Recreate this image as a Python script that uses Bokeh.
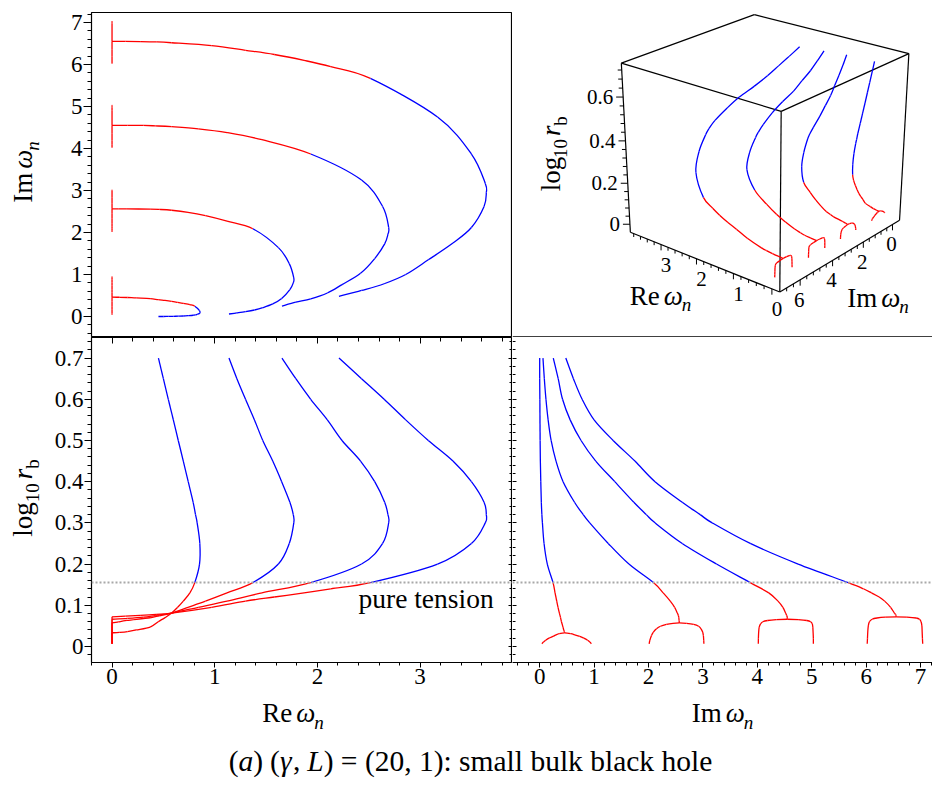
import math
import numpy as np
from bokeh.plotting import figure
from bokeh.models import FixedTicker, LinearAxis, Span, Label, ColumnDataSource
from bokeh.layouts import column, row
from bokeh.embed import file_html
from bokeh.resources import INLINE
from bokeh.core.properties import value

FONT = "Liberation Serif"
MID_EM = 0.3375             # centre of the font's em box above its baseline
INK = "#000000"
RED = "#ff0000"
BLUE = "#0000ff"
DOTS = "#a8a8a8"
TENSION_LOG_RB = 0.155      # log10 r_b of the pure-tension brane

# ---------------------------------------------------------------------------
# Quasinormal-mode tracks n = 0..3.
# Main branch: log10 r_b, Re w_n, Im w_n, followed from large r_b down to the
# point where Re w_n reaches 0; there the mode splits into two purely
# imaginary modes (lower / upper Im w_n) as r_b keeps decreasing.
# ---------------------------------------------------------------------------
N0_LOG_RB = [0.70, 0.65, 0.60, 0.55, 0.50, 0.45, 0.40, 0.35, 0.32, 0.30, 0.25, 0.20, 0.155,
             0.13, 0.11, 0.095, 0.081, 0.07, 0.06, 0.047, 0.04, 0.036, 0.034, 0.033]
N0_RE = [0.452, 0.50, 0.548, 0.597, 0.645, 0.694, 0.742, 0.79, 0.813, 0.829, 0.855, 0.852, 0.806,
         0.758, 0.694, 0.639, 0.58, 0.516, 0.45, 0.371, 0.235, 0.15, 0.07, 0.0]
N0_IM = [0.0, 0.0, 0.003, 0.005, 0.008, 0.012, 0.02, 0.03, 0.04, 0.05, 0.08, 0.14, 0.245,
         0.282, 0.313, 0.337, 0.362, 0.383, 0.40, 0.428, 0.442, 0.453, 0.458, 0.46]
N0_SPLIT_LOG_RB = [0.033, 0.031, 0.028, 0.0243, 0.020, 0.015, 0.011, 0.0065]
N0_SPLIT_IM_LO = [0.46, 0.36, 0.30, 0.245, 0.17, 0.11, 0.07, 0.04]
N0_SPLIT_IM_HI = [0.46, 0.57, 0.65, 0.736, 0.81, 0.88, 0.92, 0.95]

N1_LOG_RB = [0.70, 0.65, 0.60, 0.55, 0.50, 0.45, 0.40, 0.35, 0.32, 0.30, 0.25, 0.20, 0.155,
             0.13, 0.11, 0.095, 0.081, 0.0745, 0.0696, 0.0631, 0.0595, 0.057]
N1_RE = [1.139, 1.216, 1.30, 1.387, 1.468, 1.565, 1.652, 1.732, 1.765, 1.77, 1.726, 1.62, 1.371,
         1.12, 0.91, 0.74, 0.58, 0.46, 0.371, 0.145, 0.06, 0.0]
N1_IM = [0.06, 0.085, 0.115, 0.155, 0.21, 0.30, 0.43, 0.64, 0.80, 0.92, 1.26, 1.64, 2.09,
         2.27, 2.40, 2.48, 2.53, 2.55, 2.557, 2.562, 2.565, 2.565]
N1_SPLIT_LOG_RB = [0.057, 0.056, 0.0534, 0.049, 0.0429, 0.035, 0.0267, 0.015, 0.0065]
N1_SPLIT_IM_LO = [2.565, 2.45, 2.33, 2.22, 2.147, 2.09, 2.055, 2.025, 2.012]
N1_SPLIT_IM_HI = [2.565, 2.70, 2.83, 2.92, 2.965, 2.995, 3.008, 3.015, 3.018]

N2_LOG_RB = [0.70, 0.65, 0.60, 0.55, 0.50, 0.45, 0.40, 0.35, 0.32, 0.30, 0.25, 0.20, 0.155,
             0.13, 0.11, 0.095, 0.081, 0.075, 0.071, 0.068, 0.066]
N2_RE = [1.655, 1.79, 1.935, 2.097, 2.24, 2.42, 2.558, 2.655, 2.687, 2.694, 2.635, 2.43, 1.935,
         1.46, 1.12, 0.84, 0.58, 0.42, 0.306, 0.15, 0.0]
N2_IM = [0.25, 0.34, 0.42, 0.56, 0.76, 1.03, 1.38, 1.73, 1.96, 2.12, 2.62, 3.25, 3.87,
         4.21, 4.38, 4.47, 4.52, 4.54, 4.55, 4.55, 4.55]
N2_SPLIT_LOG_RB = [0.066, 0.065, 0.063, 0.06, 0.055, 0.047, 0.035, 0.02, 0.0065]
N2_SPLIT_IM_LO = [4.55, 4.35, 4.19, 4.10, 4.06, 4.035, 4.025, 4.02, 4.018]
N2_SPLIT_IM_HI = [4.55, 4.75, 4.91, 4.98, 5.01, 5.02, 5.025, 5.03, 5.03]

N3_LOG_RB = [0.70, 0.65, 0.60, 0.55, 0.50, 0.45, 0.40, 0.35, 0.32, 0.30, 0.25, 0.20, 0.155,
             0.14, 0.13, 0.12, 0.11, 0.095, 0.081, 0.078, 0.0755, 0.0735, 0.072]
N3_RE = [2.21, 2.43, 2.65, 2.86, 3.08, 3.32, 3.50, 3.623, 3.645, 3.635, 3.50, 3.17, 2.516,
         2.13, 1.87, 1.58, 1.30, 0.97, 0.58, 0.43, 0.274, 0.13, 0.0]
N3_IM = [0.48, 0.62, 0.78, 1.0, 1.35, 1.75, 2.12, 2.62, 2.95, 3.17, 3.87, 4.75, 5.67,
         5.95, 6.10, 6.24, 6.34, 6.45, 6.52, 6.54, 6.548, 6.55, 6.55]
N3_SPLIT_LOG_RB = [0.072, 0.0712, 0.069, 0.066, 0.06, 0.05, 0.035, 0.02, 0.0065]
N3_SPLIT_IM_LO = [6.55, 6.35, 6.2, 6.11, 6.06, 6.04, 6.03, 6.025, 6.02]
N3_SPLIT_IM_HI = [6.55, 6.75, 6.92, 6.98, 7.01, 7.025, 7.03, 7.035, 7.04]

SPLIT_RE = 0.0   # the split branches are purely imaginary

MODES = [
    (N0_LOG_RB, N0_RE, N0_IM, N0_SPLIT_LOG_RB, N0_SPLIT_IM_LO, N0_SPLIT_IM_HI),
    (N1_LOG_RB, N1_RE, N1_IM, N1_SPLIT_LOG_RB, N1_SPLIT_IM_LO, N1_SPLIT_IM_HI),
    (N2_LOG_RB, N2_RE, N2_IM, N2_SPLIT_LOG_RB, N2_SPLIT_IM_LO, N2_SPLIT_IM_HI),
    (N3_LOG_RB, N3_RE, N3_IM, N3_SPLIT_LOG_RB, N3_SPLIT_IM_LO, N3_SPLIT_IM_HI),
]

# ---------------------------------------------------------------------------
# Axis ranges and ticks
# ---------------------------------------------------------------------------
RE_RANGE = (-0.2, 3.9)
IM_TOP_RANGE = (-0.5, 7.24)
IM_RANGE = (-0.5, 7.22)
LOG_RB_RANGE = (-0.039, 0.75)

RE_TICKS = [0, 1, 2, 3]
RE_MINOR = [round(-0.2 + 0.2 * k, 1) for k in range(21)]
IM_TICKS = [0, 1, 2, 3, 4, 5, 6, 7]
IM_MINOR = [round(-0.4 + 0.2 * k, 1) for k in range(39)]
LOG_RB_TICKS = [0, 0.1, 0.2, 0.3, 0.4, 0.5, 0.6, 0.7]
LOG_RB_TICK_TEXT = {0: "0", 0.1: "0.1", 0.2: "0.2", 0.3: "0.3", 0.4: "0.4",
                    0.5: "0.5", 0.6: "0.6", 0.7: "0.7"}
LOG_RB_MINOR = [round(-0.02 + 0.02 * k, 2) for k in range(39)]

# 3-D view box and its tick marks
BOX_RE = (-0.2, 3.9)
BOX_IM = (-0.5, 7.2)
BOX_LOG_RB = (-0.04, 0.75)
BOX_RE_TICKS = [0, 1, 2, 3]
BOX_RE_MINOR = [round(0.2 * k, 1) for k in range(20)]
BOX_IM_TICKS = [0, 2, 4, 6]
BOX_IM_MINOR = [round(0.4 * k, 1) for k in range(18)]
BOX_LOG_RB_TICKS = [0, 0.2, 0.4, 0.6]
BOX_LOG_RB_TICK_TEXT = ["0", "0.2", "0.4", "0.6"]
BOX_LOG_RB_MINOR = [round(0.04 * k, 2) for k in range(19)]

# perspective camera for the 3-D panel (panel pixels, y down)
CAM_FOCAL = 1332.7
CAM_TILT = 27.57                      # downward pitch, degrees
CAM_YAW = 39.6                        # heading of the Im edge, degrees
CAM_CENTER = (249.0, 224.3)           # principal point
BOX_CORNER = (0.0159, 1.0, -0.5864)   # (lateral, forward, height) of Re_min/Im_max/floor corner
BOX_EDGES = (0.1816, 0.1836, 0.1753)  # edge lengths along Re, Im, log10 r_b

# layout (px)
STRIP_W = 50                 # column holding the rotated y titles
LEFT_W, RIGHT_W = 462, 420
TOP_H, BOTTOM_H, CAPTION_H = 337, 360, 88
PAD_L = 41
PAD_T = 12
FRAME_H = 325
PAGE_W = STRIP_W + LEFT_W + RIGHT_W

TICK_FS = 23
BOX_TICK_FS = 21
AXIS_FS = 27
SUB_FS = 19
NOTE_FS = 27.5
CAP_FS = 29.5

ROMAN_EM = {' ': 0.25, '(': 0.333, ')': 0.333, ',': 0.25, ':': 0.278, '=': 0.564,
            'a': 0.444, 'b': 0.5, 'c': 0.444, 'e': 0.444, 'g': 0.5, 'h': 0.5,
            'k': 0.5, 'l': 0.278, 'm': 0.778, 'n': 0.5, 'o': 0.5, 'r': 0.333,
            's': 0.389, 'u': 0.5, 'I': 0.333, 'R': 0.667, 'L': 0.611}
ITALIC_EM = {'a': 0.5, 'n': 0.5, 'r': 0.389, 'ω': 0.67, 'γ': 0.44, 'L': 0.556}


def text_px(s, size, italic):
    table = ITALIC_EM if italic else ROMAN_EM
    return sum(table.get(c, 0.5) for c in s) * size


def math_text(p, px, py, parts, vertical=False):
    """Formula pieces (own style/size/baseline shift) on a common baseline through (px, py)."""
    total = sum(text_px(t, sz, it) + gap for (t, it, sz, rise, gap) in parts)
    u = -total / 2.0
    for (t, it, sz, rise, gap) in parts:
        u += gap
        up = rise + MID_EM * sz          # anchor on the middle of the em box
        if vertical:
            x, y = px - up, py - u
        else:
            x, y = px + u, py - up
        p.add_layout(Label(x=x, y=y, text=t, text_font=FONT, text_font_size=f"{sz}px",
                           text_font_style="italic" if it else "normal", text_color=INK,
                           text_baseline="middle", text_align="left",
                           angle=math.pi / 2 if vertical else 0.0))
        u += text_px(t, sz, it)


IM_LABEL = [("Im", False, AXIS_FS, 0, 0), ("ω", True, AXIS_FS, 0, 4), ("n", True, SUB_FS, -6, 0)]
RE_LABEL = [("Re", False, AXIS_FS, 0, 0), ("ω", True, AXIS_FS, 0, 4), ("n", True, SUB_FS, -6, 0)]
LOG_LABEL = [("log", False, AXIS_FS, 0, 0), ("10", False, SUB_FS, -6, 0),
             ("r", True, AXIS_FS, 0, 4), ("b", False, SUB_FS, -6, 0)]
CAPTION = [("(", False, CAP_FS, 0, 0), ("a", True, CAP_FS, 0, 0), (")", False, CAP_FS, 0, 0),
           ("(", False, CAP_FS, 0, 7), ("γ", True, CAP_FS, 0, 0), (",", False, CAP_FS, 0, 0),
           ("L", True, CAP_FS, 0, 7),
           (") = (20, 1): small bulk black hole", False, CAP_FS, 0, 0)]


def panel(width, height, xr, yr, left=0, right=0, top=0, bottom=0, outline=True):
    p = figure(width=width, height=height, x_range=xr, y_range=yr,
               x_axis_type=None, y_axis_type=None, toolbar_location=None,
               output_backend="svg", min_border_left=left, min_border_right=right,
               min_border_top=top, min_border_bottom=bottom)
    p.outline_line_color = INK if outline else None
    p.outline_line_width = 1.2
    p.background_fill_color = "white"
    p.border_fill_color = "white"
    return p


def pixel_panel(width, height):
    p = figure(width=width, height=height, x_range=(0, width), y_range=(height, 0),
               x_axis_type=None, y_axis_type=None, toolbar_location=None,
               output_backend="svg", min_border_left=0, min_border_right=0,
               min_border_top=0, min_border_bottom=0)
    p.outline_line_color = None
    p.background_fill_color = "white"
    p.border_fill_color = "white"
    return p


def add_axis(p, side, ticks, minor, labels=None, tick_in=0, tick_out=0,
             minor_in=0, minor_out=0, fixed=None, standoff=2, line=False):
    ax = LinearAxis(ticker=FixedTicker(ticks=ticks, minor_ticks=minor))
    ax.axis_line_color = INK if line else None
    ax.axis_line_width = 1.2
    ax.major_tick_in, ax.major_tick_out = tick_in, tick_out
    ax.minor_tick_in, ax.minor_tick_out = minor_in, minor_out
    ax.major_tick_line_color = INK
    ax.minor_tick_line_color = INK
    if labels is None:
        ax.major_label_text_font_size = "0px"
        ax.major_label_text_color = None
        ax.major_label_standoff = 0
    else:
        ax.major_label_overrides = labels
        ax.major_label_text_font = FONT
        ax.major_label_text_font_size = f"{TICK_FS}px"
        ax.major_label_text_color = INK
        ax.major_label_standoff = standoff
    if fixed is not None:
        ax.fixed_location = fixed
    p.add_layout(ax, side)
    return ax


def draw_track(p, xs, ys, colors, width=1.3):
    """Smooth curve through the points (cubic Bezier pieces, Catmull-Rom tangents)."""
    n = len(xs)
    seg = {k: [] for k in ("x0", "y0", "x1", "y1", "cx0", "cy0", "cx1", "cy1", "c")}
    for i in range(n - 1):
        a, d = max(i - 1, 0), min(i + 2, n - 1)
        seg["x0"].append(xs[i])
        seg["y0"].append(ys[i])
        seg["x1"].append(xs[i + 1])
        seg["y1"].append(ys[i + 1])
        seg["cx0"].append(xs[i] + (xs[i + 1] - xs[a]) / 6.0)
        seg["cy0"].append(ys[i] + (ys[i + 1] - ys[a]) / 6.0)
        seg["cx1"].append(xs[i + 1] - (xs[d] - xs[i]) / 6.0)
        seg["cy1"].append(ys[i + 1] - (ys[d] - ys[i]) / 6.0)
        seg["c"].append(colors[i])
    p.bezier(x0="x0", y0="y0", x1="x1", y1="y1", cx0="cx0", cy0="cy0", cx1="cx1", cy1="cy1",
             line_color="c", line_width=width, source=ColumnDataSource(seg))


def stage_colors(lr):
    return [BLUE if min(lr[i], lr[i + 1]) >= TENSION_LOG_RB - 1e-9 else RED
            for i in range(len(lr) - 1)]


def split_arch(s_lr, s_lo, s_hi):
    return s_lr[::-1] + s_lr[1:], s_lo[::-1] + s_hi[1:]


# ---------------- top left: Im w_n against Re w_n --------------------------
tl = panel(LEFT_W, TOP_H, RE_RANGE, IM_TOP_RANGE, left=PAD_L, top=PAD_T)
add_axis(tl, "left", IM_TICKS, IM_MINOR, labels={}, tick_out=8, minor_out=4, standoff=1)
for lr, re, im, s_lr, s_lo, s_hi in MODES:
    draw_track(tl, re, im, stage_colors(lr))
    a_lr, a_im = split_arch(s_lr, s_lo, s_hi)
    draw_track(tl, [SPLIT_RE] * len(a_im), a_im, [RED] * len(a_im))

# ---------------- bottom left: log10 r_b against Re w_n --------------------
bl = panel(LEFT_W, BOTTOM_H, RE_RANGE, LOG_RB_RANGE, left=PAD_L, bottom=BOTTOM_H - FRAME_H)
add_axis(bl, "left", LOG_RB_TICKS, LOG_RB_MINOR, labels=LOG_RB_TICK_TEXT,
         tick_out=7, minor_out=4, standoff=1)
add_axis(bl, "below", RE_TICKS, RE_MINOR, labels={}, tick_out=5, minor_out=3, standoff=1)
add_axis(bl, "above", RE_TICKS, RE_MINOR, tick_in=6, minor_in=4, fixed=LOG_RB_RANGE[1])
add_axis(bl, "right", LOG_RB_TICKS, LOG_RB_MINOR, tick_in=4, minor_in=3, fixed=RE_RANGE[1])
bl.add_layout(Span(location=TENSION_LOG_RB, dimension="width", line_color=DOTS,
                   line_width=2, line_dash="2 2"))
for lr, re, im, s_lr, s_lo, s_hi in MODES:
    draw_track(bl, re, lr, stage_colors(lr))
    draw_track(bl, [SPLIT_RE] * len(s_lr), s_lr, [RED] * len(s_lr))
# note sits on the baseline log10 r_b = 0.0945, anchored on its middle
note_mid = 0.0945 + MID_EM * NOTE_FS * (LOG_RB_RANGE[1] - LOG_RB_RANGE[0]) / FRAME_H
bl.add_layout(Label(x=2.40, y=note_mid, text="pure tension", text_font=FONT,
                    text_font_size=f"{NOTE_FS}px", text_color=INK,
                    text_baseline="middle", text_align="left"))

# ---------------- bottom right: log10 r_b against Im w_n -------------------
br = panel(RIGHT_W, BOTTOM_H, IM_RANGE, LOG_RB_RANGE, bottom=BOTTOM_H - FRAME_H, outline=False)
add_axis(br, "below", IM_TICKS, IM_MINOR, labels={}, tick_out=5, minor_out=3,
         standoff=1, line=True)
add_axis(br, "left", LOG_RB_TICKS, LOG_RB_MINOR, tick_in=4, minor_in=3, fixed=IM_RANGE[0])
br.add_layout(Span(location=TENSION_LOG_RB, dimension="width", line_color=DOTS,
                   line_width=2, line_dash="2 2"))
for lr, re, im, s_lr, s_lo, s_hi in MODES:
    draw_track(br, im, lr, stage_colors(lr))
    a_lr, a_im = split_arch(s_lr, s_lo, s_hi)
    draw_track(br, a_im, a_lr, [RED] * len(a_im))


# ---------------- top right: perspective view of the tracks ----------------
def project(re, im, lr):
    re = np.asarray(re, dtype=float)
    im = np.asarray(im, dtype=float)
    lr = np.asarray(lr, dtype=float)
    p = (re - BOX_RE[0]) / (BOX_RE[1] - BOX_RE[0])
    q = (BOX_IM[1] - im) / (BOX_IM[1] - BOX_IM[0])
    r = (lr - BOX_LOG_RB[0]) / (BOX_LOG_RB[1] - BOX_LOG_RB[0])
    yaw, tilt = math.radians(CAM_YAW), math.radians(CAM_TILT)
    ex = BOX_CORNER[0] - math.cos(yaw) * BOX_EDGES[0] * p + math.sin(yaw) * BOX_EDGES[1] * q
    ez = BOX_CORNER[1] + math.sin(yaw) * BOX_EDGES[0] * p + math.cos(yaw) * BOX_EDGES[1] * q
    eu = BOX_CORNER[2] + BOX_EDGES[2] * r
    depth = ez * math.cos(tilt) - eu * math.sin(tilt)
    sx = CAM_CENTER[0] + CAM_FOCAL * ex / depth
    sy = CAM_CENTER[1] + CAM_FOCAL * (-ez * math.sin(tilt) - eu * math.cos(tilt)) / depth
    return sx.tolist(), sy.tolist()


tr = pixel_panel(RIGHT_W, TOP_H)

r0, r1 = BOX_RE
i0, i1 = BOX_IM
l0, l1 = BOX_LOG_RB
edges = [((r0, i1, l1), (r1, i1, l1)), ((r1, i1, l1), (r1, i0, l1)),
         ((r1, i0, l1), (r0, i0, l1)), ((r0, i0, l1), (r0, i1, l1)),
         ((r0, i1, l0), (r0, i1, l1)), ((r1, i1, l0), (r1, i1, l1)),
         ((r0, i0, l0), (r0, i0, l1)),
         ((r0, i1, l0), (r1, i1, l0)), ((r0, i1, l0), (r0, i0, l0))]
ex_, ey_ = [], []
for a, b in edges:
    sx, sy = project([a[0], b[0]], [a[1], b[1]], [a[2], b[2]])
    ex_.append(sx)
    ey_.append(sy)
tr.multi_line(ex_, ey_, line_color=INK, line_width=1.2)

# tick marks on the three labelled edges
tx, ty = [], []
sx, sy = project(BOX_RE_MINOR, [i1] * len(BOX_RE_MINOR), [l0] * len(BOX_RE_MINOR))
for v, x, y in zip(BOX_RE_MINOR, sx, sy):
    tx.append([x, x])
    ty.append([y, y + (6 if v in BOX_RE_TICKS else 3.5)])
sx, sy = project([r0] * len(BOX_IM_MINOR), BOX_IM_MINOR, [l0] * len(BOX_IM_MINOR))
for v, x, y in zip(BOX_IM_MINOR, sx, sy):
    tx.append([x, x])
    ty.append([y, y + (6 if v in BOX_IM_TICKS else 3.5)])
sx, sy = project([r1] * len(BOX_LOG_RB_MINOR), [i1] * len(BOX_LOG_RB_MINOR), BOX_LOG_RB_MINOR)
for v, x, y in zip(BOX_LOG_RB_MINOR, sx, sy):
    tx.append([x, x - (7 if v in BOX_LOG_RB_TICKS else 4)])
    ty.append([y, y])
tr.multi_line(tx, ty, line_color=INK, line_width=1)

sx, sy = project(BOX_RE_TICKS, [i1] * 4, [l0] * 4)
tr.text([x + 5 for x in sx], [y + 21 for y in sy], text=[str(v) for v in BOX_RE_TICKS],
        text_font=value(FONT), text_font_size=value(f"{BOX_TICK_FS}px"), text_color=INK,
        text_align="center", text_baseline="middle")
sx, sy = project([r0] * 4, BOX_IM_TICKS, [l0] * 4)
tr.text([x - 1 for x in sx], [y + 20.5 for y in sy], text=[str(v) for v in BOX_IM_TICKS],
        text_font=value(FONT), text_font_size=value(f"{BOX_TICK_FS}px"), text_color=INK,
        text_align="center", text_baseline="middle")
sx, sy = project([r1] * 4, [i1] * 4, BOX_LOG_RB_TICKS)
tr.text([x - 10 for x in sx], sy, text=BOX_LOG_RB_TICK_TEXT,
        text_font=value(FONT), text_font_size=value(f"{BOX_TICK_FS}px"), text_color=INK,
        text_align="right", text_baseline="middle")

for lr, re, im, s_lr, s_lo, s_hi in MODES:
    x, y = project(re, im, lr)
    draw_track(tr, x, y, stage_colors(lr))
    a_lr, a_im = split_arch(s_lr, s_lo, s_hi)
    x, y = project([SPLIT_RE] * len(a_im), a_im, a_lr)
    draw_track(tr, x, y, [RED] * len(a_im))

# frame line shared with the panel underneath
tr.line([0, RIGHT_W], [TOP_H - 0.6, TOP_H - 0.6], line_color=INK, line_width=1.5)

math_text(tr, 148, 303, RE_LABEL)
math_text(tr, 365.5, 305, IM_LABEL)
math_text(tr, 48, 146.7, LOG_LABEL, vertical=True)

# ---------------- rotated y titles of the two left panels -------------------
strip = pixel_panel(STRIP_W, TOP_H + BOTTOM_H)
math_text(strip, 32, 171.5, IM_LABEL, vertical=True)
math_text(strip, 32, 497.5, LOG_LABEL, vertical=True)

# ---------------- x titles and caption --------------------------------------
cap = pixel_panel(PAGE_W, CAPTION_H)
math_text(cap, 292.5, 25, RE_LABEL)
math_text(cap, 722, 25, IM_LABEL)
math_text(cap, 470, 73, CAPTION)

layout = column(row(strip, column(row(tl, tr), row(bl, br))), cap)
open("out.html", "w").write(file_html(layout, INLINE))
